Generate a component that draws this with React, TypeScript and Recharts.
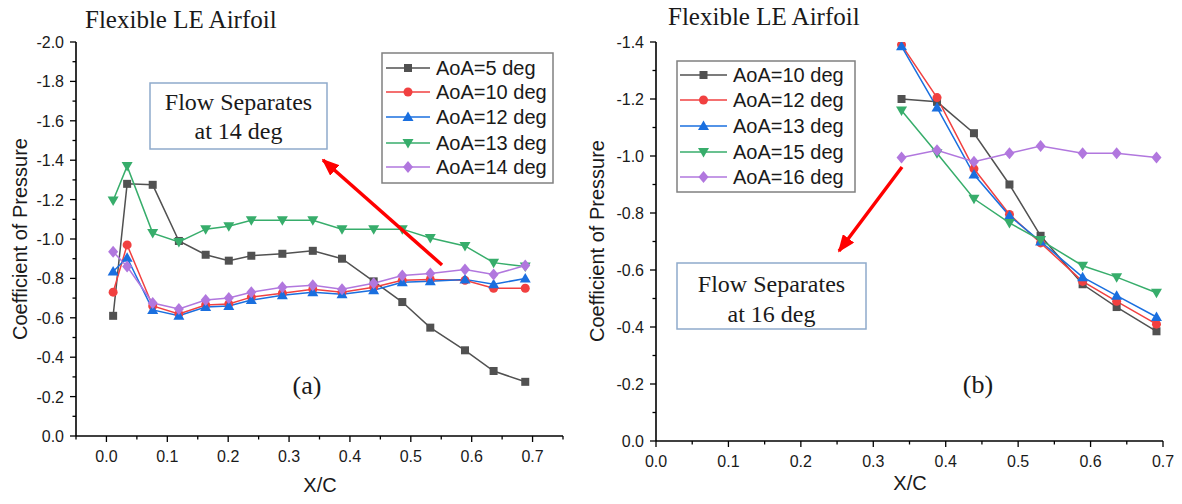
import { LineChart, Line, XAxis, YAxis } from 'recharts'

const SANS = '"Liberation Sans", Arial, sans-serif'
const SERIF = '"Liberation Serif", "Times New Roman", serif'

// Origin "Colorful" palette
const GRAY = '#515151'
const RED = '#F14040'
const BLUE = '#1A6FDF'
const GREEN = '#37AD6B'
const PURPLE = '#B177DE'

// ---- panel (a) ----
const xLeft = [0.011, 0.034, 0.076, 0.119, 0.163, 0.201, 0.238, 0.289, 0.339, 0.387, 0.439, 0.486, 0.532, 0.589, 0.636, 0.688]
const aoa5 = [-0.61, -1.28, -1.275, -0.99, -0.92, -0.89, -0.915, -0.925, -0.94, -0.9, -0.785, -0.68, -0.55, -0.435, -0.33, -0.275]
const aoa10 = [-0.73, -0.97, -0.66, -0.62, -0.665, -0.67, -0.705, -0.725, -0.745, -0.73, -0.755, -0.79, -0.795, -0.79, -0.75, -0.75]
const aoa12 = [-0.835, -0.905, -0.64, -0.61, -0.655, -0.66, -0.69, -0.715, -0.73, -0.72, -0.74, -0.78, -0.785, -0.795, -0.77, -0.8]
const aoa13 = [-1.195, -1.37, -1.03, -0.985, -1.05, -1.065, -1.095, -1.095, -1.095, -1.05, -1.05, -1.05, -1.005, -0.965, -0.88, -0.86]
const aoa14 = [-0.935, -0.86, -0.675, -0.645, -0.69, -0.7, -0.73, -0.755, -0.765, -0.745, -0.775, -0.815, -0.825, -0.845, -0.82, -0.865]

const leftXTicks = [-0.05, 0, 0.05, 0.1, 0.15, 0.2, 0.25, 0.3, 0.35, 0.4, 0.45, 0.5, 0.55, 0.6, 0.65, 0.7, 0.75]
const leftYTicks = [-2.0, -1.9, -1.8, -1.7, -1.6, -1.5, -1.4, -1.3, -1.2, -1.1, -1.0, -0.9, -0.8, -0.7, -0.6, -0.5, -0.4, -0.3, -0.2, -0.1, 0]

// ---- panel (b) ----
const xRight = [0.339, 0.388, 0.439, 0.488, 0.531, 0.589, 0.636, 0.691]
const aoaB10 = [-1.2, -1.19, -1.08, -0.9, -0.72, -0.55, -0.47, -0.385]
const aoaB12 = [-1.39, -1.205, -0.955, -0.795, -0.695, -0.56, -0.49, -0.41]
const aoaB13 = [-1.385, -1.17, -0.935, -0.79, -0.7, -0.575, -0.51, -0.435]
const aoaB15 = [-1.16, -1.01, -0.85, -0.765, -0.705, -0.615, -0.575, -0.52]
const aoaB16 = [-0.995, -1.02, -0.98, -1.01, -1.035, -1.01, -1.01, -0.995]

const rightXTicks = [0, 0.05, 0.1, 0.15, 0.2, 0.25, 0.3, 0.35, 0.4, 0.45, 0.5, 0.55, 0.6, 0.65, 0.7]
const rightYTicks = [-1.4, -1.3, -1.2, -1.1, -1.0, -0.9, -0.8, -0.7, -0.6, -0.5, -0.4, -0.3, -0.2, -0.1, 0]

const seriesA = [
  { key: 'a5', name: 'AoA=5 deg', values: aoa5, color: GRAY, shape: 'square' },
  { key: 'a10', name: 'AoA=10 deg', values: aoa10, color: RED, shape: 'circle' },
  { key: 'a12', name: 'AoA=12 deg', values: aoa12, color: BLUE, shape: 'up' },
  { key: 'a13', name: 'AoA=13 deg', values: aoa13, color: GREEN, shape: 'down' },
  { key: 'a14', name: 'AoA=14 deg', values: aoa14, color: PURPLE, shape: 'diamond' },
]
const seriesB = [
  { key: 'b10', name: 'AoA=10 deg', values: aoaB10, color: GRAY, shape: 'square' },
  { key: 'b12', name: 'AoA=12 deg', values: aoaB12, color: RED, shape: 'circle' },
  { key: 'b13', name: 'AoA=13 deg', values: aoaB13, color: BLUE, shape: 'up' },
  { key: 'b15', name: 'AoA=15 deg', values: aoaB15, color: GREEN, shape: 'down' },
  { key: 'b16', name: 'AoA=16 deg', values: aoaB16, color: PURPLE, shape: 'diamond' },
]

const buildRows = (xs: number[], series: typeof seriesA) =>
  xs.map((x, i) => {
    const row: Record<string, number> = { x }
    series.forEach((s) => (row[s.key] = s.values[i]))
    return row
  })

function Marker({ cx, cy, shape, color }: any) {
  if (cx == null || cy == null) return null
  switch (shape) {
    case 'square':
      return <rect x={cx - 4} y={cy - 4} width={8} height={8} fill={color} />
    case 'circle':
      return <circle cx={cx} cy={cy} r={4.5} fill={color} />
    case 'up':
      return <polygon points={`${cx},${cy - 5.5} ${cx + 5.5},${cy + 4} ${cx - 5.5},${cy + 4}`} fill={color} />
    case 'down':
      return <polygon points={`${cx},${cy + 5.5} ${cx + 5.5},${cy - 4} ${cx - 5.5},${cy - 4}`} fill={color} />
    default:
      return <polygon points={`${cx},${cy - 6} ${cx + 5},${cy} ${cx},${cy + 6} ${cx - 5},${cy}`} fill={color} />
  }
}

function BottomTick({ x, y, payload }: any) {
  const v = payload.value
  const major = Math.round(v * 100) % 10 === 0
  return (
    <g>
      <line x1={x} y1={y} x2={x} y2={y + (major ? 6 : 3.5)} stroke="#000" strokeWidth={1.3} />
      {major && (
        <text x={x} y={y + 26} textAnchor="middle" fontSize={16} fontFamily={SANS} fill="#1a1a1a">
          {v.toFixed(1)}
        </text>
      )}
    </g>
  )
}

function LeftTick({ x, y, payload }: any) {
  const v = payload.value
  const major = Math.round(v * 10) % 2 === 0
  return (
    <g>
      <line x1={x} y1={y} x2={x - (major ? 6 : 3.5)} y2={y} stroke="#000" strokeWidth={1.3} />
      {major && (
        <text x={x - 12} y={y + 6} textAnchor="end" fontSize={16} fontFamily={SANS} fill="#1a1a1a">
          {v === 0 ? '0.0' : v.toFixed(1)}
        </text>
      )}
    </g>
  )
}

function Panel({ rows, series, width, margin, xDomain, xTicks, yDomain, yTicks }: any) {
  return (
    <LineChart width={width} height={504} data={rows} margin={margin}>
      <XAxis
        dataKey="x"
        type="number"
        domain={xDomain}
        ticks={xTicks}
        interval={0}
        allowDataOverflow
        height={30}
        tickSize={0}
        tickMargin={0}
        tickLine={false}
        axisLine={{ stroke: '#000', strokeWidth: 1.6 }}
        tick={(p: any) => <BottomTick key={p.index} {...p} />}
      />
      <YAxis
        type="number"
        domain={yDomain}
        ticks={yTicks}
        interval={0}
        reversed
        allowDataOverflow
        width={76}
        tickSize={0}
        tickMargin={0}
        tickLine={false}
        axisLine={{ stroke: '#000', strokeWidth: 1.6 }}
        tick={(p: any) => <LeftTick key={p.index} {...p} />}
      />
      {series.map((s: any) => (
        <Line
          key={s.key}
          dataKey={s.key}
          type="linear"
          stroke={s.color}
          strokeWidth={1.5}
          isAnimationActive={false}
          activeDot={false}
          dot={(p: any) => <Marker key={p.index} cx={p.cx} cy={p.cy} shape={s.shape} color={s.color} />}
        />
      ))}
    </LineChart>
  )
}

function Legend({ series, x, y, w, h, lineX1, lineX2, textX, rows }: any) {
  return (
    <g>
      <rect x={x} y={y} width={w} height={h} fill="#fff" stroke="#808080" strokeWidth={1.5} />
      {series.map((s: any, i: number) => (
        <g key={s.key}>
          <line x1={lineX1} x2={lineX2} y1={rows[i]} y2={rows[i]} stroke={s.color} strokeWidth={1.5} />
          <Marker cx={(lineX1 + lineX2) / 2} cy={rows[i]} shape={s.shape} color={s.color} />
          <text x={textX} y={rows[i] + 7} fontSize={20} fontFamily={SANS} fill="#1a1a1a">
            {s.name}
          </text>
        </g>
      ))}
    </g>
  )
}

export default function App() {
  const rowsA = buildRows(xLeft, seriesA)
  const rowsB = buildRows(xRight, seriesB)
  return (
    <div style={{ position: 'absolute', left: 0, top: 0, width: 1182, height: 504, background: '#fff' }}>
      <div style={{ position: 'absolute', left: 0, top: 0 }}>
        <Panel
          rows={rowsA}
          series={seriesA}
          width={580}
          margin={{ top: 42, right: 17, bottom: 38, left: 0 }}
          xDomain={[-0.05, 0.75]}
          xTicks={leftXTicks}
          yDomain={[-2, 0]}
          yTicks={leftYTicks}
        />
      </div>
      <div style={{ position: 'absolute', left: 580, top: 0 }}>
        <Panel
          rows={rowsB}
          series={seriesB}
          width={602}
          margin={{ top: 42, right: 19, bottom: 33, left: 0 }}
          xDomain={[0, 0.7]}
          xTicks={rightXTicks}
          yDomain={[-1.4, 0]}
          yTicks={rightYTicks}
        />
      </div>
      <svg width={1182} height={504} style={{ position: 'absolute', left: 0, top: 0, pointerEvents: 'none' }}>
        <defs>
          <marker id="arrowHead" markerWidth="5" markerHeight="4" refX="4.5" refY="2" orient="auto" markerUnits="strokeWidth">
            <polygon points="0,0 5,2 0,4" fill="#FF0000" />
          </marker>
        </defs>

        {/* titles */}
        <text x={85} y={28} fontSize={25} fontFamily={SERIF} fill="#1a1a1a">Flexible LE Airfoil</text>
        <text x={668} y={25} fontSize={25} fontFamily={SERIF} fill="#1a1a1a">Flexible LE Airfoil</text>

        {/* axis titles */}
        <text x={320} y={492} textAnchor="middle" fontSize={20} fontFamily={SANS} fill="#1a1a1a">X/C</text>
        <text x={910} y={490} textAnchor="middle" fontSize={20} fontFamily={SANS} fill="#1a1a1a">X/C</text>
        <text x={27} y={239} transform="rotate(-90 27 239)" textAnchor="middle" fontSize={20} fontFamily={SANS} fill="#1a1a1a">
          Coefficient of Pressure
        </text>
        <text x={604} y={241} transform="rotate(-90 604 241)" textAnchor="middle" fontSize={20} fontFamily={SANS} fill="#1a1a1a">
          Coefficient of Pressure
        </text>

        {/* annotation boxes */}
        <rect x={150} y={83} width={177} height={66} fill="#fff" stroke="#8FAACB" strokeWidth={1.5} />
        <text x={238.5} y={110} textAnchor="middle" fontSize={24} fontFamily={SERIF} fill="#1a1a1a">Flow Separates</text>
        <text x={238.5} y={139} textAnchor="middle" fontSize={24} fontFamily={SERIF} fill="#1a1a1a">at 14 deg</text>

        <rect x={677} y={263} width={189} height={66} fill="#fff" stroke="#8FAACB" strokeWidth={1.5} />
        <text x={771.5} y={292} textAnchor="middle" fontSize={24} fontFamily={SERIF} fill="#1a1a1a">Flow Separates</text>
        <text x={771.5} y={322} textAnchor="middle" fontSize={24} fontFamily={SERIF} fill="#1a1a1a">at 16 deg</text>

        {/* arrows */}
        <line x1={442} y1={265} x2={323} y2={160} stroke="#FF0000" strokeWidth={3.5} markerEnd="url(#arrowHead)" />
        <line x1={902} y1={167} x2={839} y2={251} stroke="#FF0000" strokeWidth={3.5} markerEnd="url(#arrowHead)" />

        {/* panel labels */}
        <text x={307} y={394} textAnchor="middle" fontSize={26} fontFamily={SERIF} fill="#1a1a1a">(a)</text>
        <text x={978} y={393} textAnchor="middle" fontSize={26} fontFamily={SERIF} fill="#1a1a1a">(b)</text>

        <Legend series={seriesA} x={382} y={53} w={171} h={130} lineX1={386} lineX2={430} textX={436} rows={[68, 92, 117, 143, 167]} />
        <Legend series={seriesB} x={677} y={61} w={178} h={131} lineX1={680} lineX2={727} textX={733} rows={[75, 100, 126, 152, 177]} />
      </svg>
    </div>
  )
}
